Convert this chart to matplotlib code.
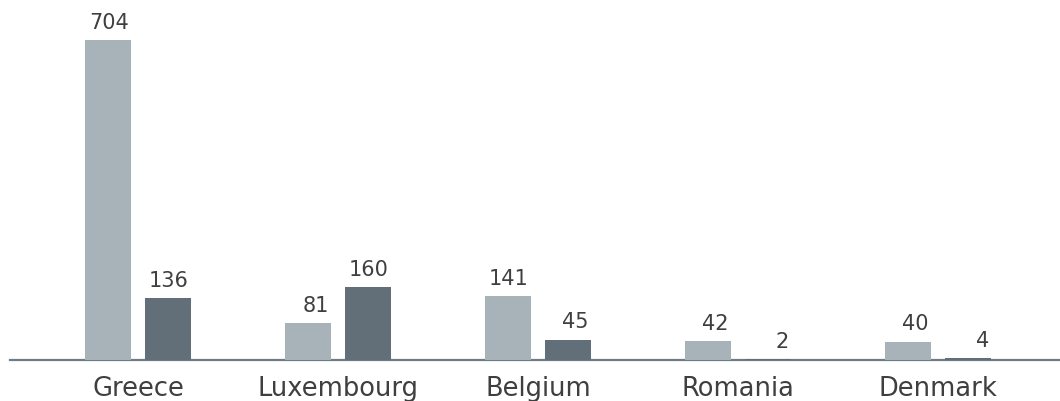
import matplotlib
matplotlib.use("Agg")
import matplotlib.pyplot as plt
import numpy as np

categories = ["Greece", "Luxembourg", "Belgium", "Romania", "Denmark"]
series_a = [704, 81, 141, 42, 40]
series_b = [136, 160, 45, 2, 4]

light = "#a7b2b9"
dark = "#626f78"
text_color = "#3f3f3f"

W, H = 1060, 402
fig = plt.figure(figsize=(W / 100, H / 100), dpi=100)
base_px = 361
left_px, right_px = 10, 1060
ax = fig.add_axes([left_px / W, 1 - base_px / H, (right_px - left_px) / W, base_px / H])

x = np.arange(len(categories))
bw = 0.23
off = 0.15
ax.bar(x - off, series_a, width=bw, color=light, zorder=3)
ax.bar(x + off, series_b, width=bw, color=dark, zorder=3)

px_per_unit = 0.4545
ax.set_ylim(0, base_px / px_per_unit)
c0 = 138
ax.set_xlim((left_px - c0) / 200, (right_px - c0) / 200)

for xs, vals in ((x - off, series_a), (x + off, series_b)):
    for xi, v in zip(xs, vals):
        ax.annotate(str(v), (xi + bw / 2, v), xytext=(-1.5, 6), textcoords="offset points",
                    ha="right", va="bottom", fontsize=15, color=text_color,
                    family="DejaVu Sans")

for s in ["top", "right", "left"]:
    ax.spines[s].set_visible(False)
ax.spines["bottom"].set_color("#6f7c86")
ax.spines["bottom"].set_linewidth(1.6)
ax.spines["bottom"].set_zorder(1)
ax.set_yticks([])
ax.set_xticks(x)
ax.set_xticklabels(categories, fontsize=18.5, color=text_color, family="DejaVu Sans")
ax.tick_params(axis="x", length=0, pad=11)

fig.savefig("out.png", dpi=100)
